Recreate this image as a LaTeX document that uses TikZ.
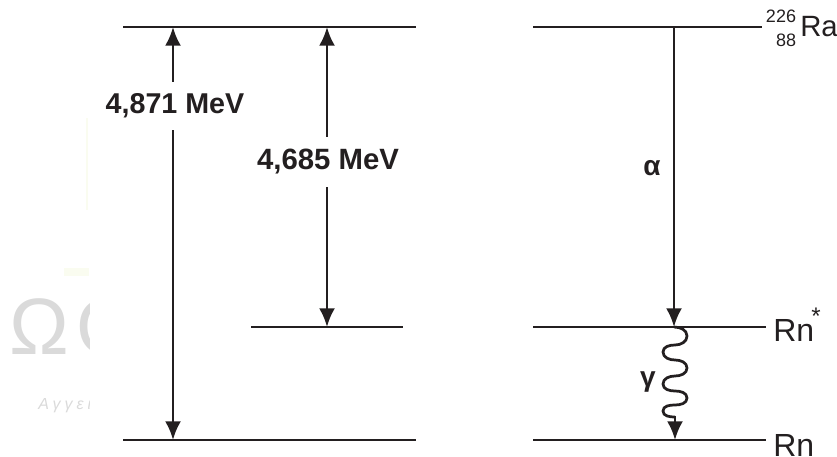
\documentclass[tikz,border=0pt]{standalone}
\usepackage{fontspec}
\setmainfont{Liberation Sans}
\usetikzlibrary{arrows.meta}
\definecolor{ink}{HTML}{231F20}
\definecolor{wm}{HTML}{DADADA}
\definecolor{wmg}{HTML}{FAFCF0}
\tikzset{
  level/.style={draw=ink,line width=2.05pt},
  arr/.style={draw=ink,line width=2.05pt,-{Latex[length=14pt,width=12pt]}},
  darr/.style={draw=ink,line width=2.05pt,{Latex[length=14pt,width=12pt]}-{Latex[length=14pt,width=12pt]}},
  energy/.style={fill=white,inner xsep=2pt,inner ysep=9pt,text=ink,font=\fontsize{21.5}{24}\selectfont\bfseries},
  greek/.style={inner sep=0pt,text=ink,font=\fontsize{21}{24}\selectfont\bfseries},
  elem/.style={inner sep=0pt,anchor=base west,text=ink,font=\fontsize{24}{26}\selectfont},
  nucl/.style={inner sep=0pt,text=ink,font=\fontsize{13.5}{15}\selectfont},
  mark text/.style={inner sep=0pt,text=wm}
}
\begin{document}
\begin{tikzpicture}[x=0.75pt,y=-0.75pt]
\clip (0,0) rectangle (837,456);
\path[use as bounding box] (0,0) rectangle (837,456);
% faint watermark, cut off at x=89
\begin{scope}
\clip (0,100) rectangle (89,456);
\fill[wmg] (86,118) rectangle (88,210);
\fill[wmg] (64,268) rectangle (89,276);
\node[mark text,font=\fontsize{60}{64}\selectfont] (wmo) at (39,327) {Ω};
\node[mark text,font=\fontsize{60}{64}\selectfont] (wmt) at (108,327) {Θ};
\node[mark text,anchor=west,font=\fontsize{12}{13}\selectfont\itshape\addfontfeature{LetterSpace=25}] (wma) at (38,406) {Αγγει};
\end{scope}
% level ends
\coordinate (tl1) at (123,27); \coordinate (tl2) at (416,27);
\coordinate (bl1) at (123,440); \coordinate (bl2) at (416,440);
\coordinate (ml1) at (251,327); \coordinate (ml2) at (403,327);
\coordinate (tr1) at (533,27); \coordinate (tr2) at (762,27);
\coordinate (mr1) at (533,327); \coordinate (mr2) at (766,327);
\coordinate (br1) at (533,440); \coordinate (br2) at (766,440);
\coordinate (a1t) at (173,27); \coordinate (a1b) at (173,440);
\coordinate (a2t) at (327,27); \coordinate (a2b) at (327,327);
\coordinate (a3t) at (674,27); \coordinate (a3b) at (674,327);
\coordinate (a4b) at (675,440);
\draw[level] (tl1)--(tl2);
\draw[level] (bl1)--(bl2);
\draw[level] (ml1)--(ml2);
\draw[level] (tr1)--(tr2);
\draw[level] (mr1)--(mr2);
\draw[level] (br1)--(br2);
\draw[darr] (a1t)--(a1b);
\draw[darr] (a2t)--(a2b);
\draw[arr] (a3t)--(a3b);
% wavy gamma line
\draw[level,line join=round] (a3b) to[out=0,in=90] (687,336) to[out=-90,in=0] (675,345)
  to[out=180,in=90] (663,352) to[out=-90,in=180] (675,360)
  to[out=0,in=90] (687,368) to[out=-90,in=0] (675,376)
  to[out=180,in=90] (663,384) to[out=-90,in=180] (675,391)
  to[out=0,in=90] (687,398) to[out=-90,in=0] (675,405)
  to[out=180,in=90] (663,411) to[out=-90,in=180] (675,417);
\coordinate (a4t) at (675,416);
\draw[arr] (a4t)--(a4b);
% labels
\node[energy] (e1) at (175,106) {4,871 MeV};
\node[energy,font=\fontsize{22}{24}\selectfont\bfseries] (e2) at (328,162) {4,685 MeV};
\node[greek] (alpha) at (652,168) {α};
\node[greek] (gamma) at (648,382) {γ};
\node[nucl] (n226) at (781,16) {226};
\node[nucl] (n88) at (786,40) {88};
\node[elem,font=\fontsize{22}{26}\selectfont] (ra) at (800,37) {Ra};
\node[elem] (rns) at (773,341) {Rn};
\node[inner sep=0pt,text=ink,font=\fontsize{18}{20}\selectfont] (star) at (816,316) {*};
\node[elem] (rn) at (773,456) {Rn};
\end{tikzpicture}
\end{document}
